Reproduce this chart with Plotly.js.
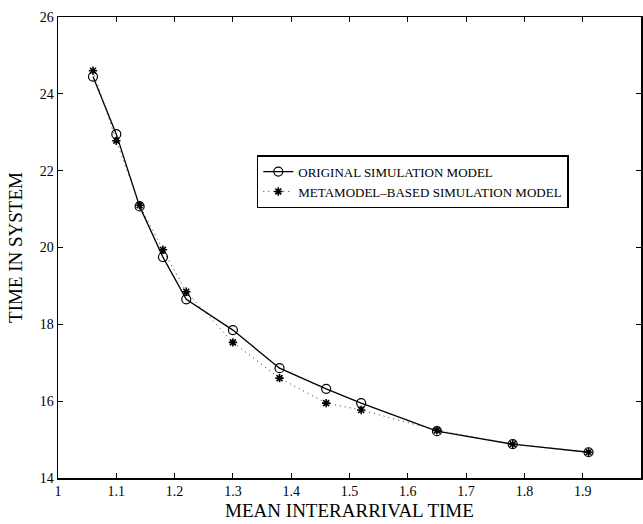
<!DOCTYPE html>
<html>
<head>
<meta charset="utf-8">
<script src="https://cdn.plot.ly/plotly-3.0.1.min.js"></script>
<style>html,body{margin:0;padding:0;background:#fff;}#chart{width:643px;height:524px;}</style>
</head>
<body>
<div id="chart"></div>
<script>
const interarrival = [1.06, 1.10, 1.14, 1.18, 1.22, 1.30, 1.38, 1.46, 1.52, 1.65, 1.78, 1.91];
const originalModel = [24.45, 22.95, 21.07, 19.75, 18.65, 17.85, 16.86, 16.32, 15.95, 15.22, 14.88, 14.67];
const metamodelBased = [24.60, 22.78, 21.10, 19.94, 18.85, 17.53, 16.60, 15.95, 15.77, 15.24, 14.88, 14.67];
const xTicks = [1, 1.1, 1.2, 1.3, 1.4, 1.5, 1.6, 1.7, 1.8, 1.9, 2];
const xTickLabels = ["1", "1.1", "1.2", "1.3", "1.4", "1.5", "1.6", "1.7", "1.8", "1.9", "2"];
const yTicks = [14, 16, 18, 20, 22, 24, 26];

const font = "Liberation Serif, Times New Roman, serif";

const traces = [
  {
    x: interarrival, y: originalModel, name: "ORIGINAL SIMULATION MODEL",
    mode: "lines+markers", type: "scatter",
    line: {color: "#000", width: 1.3},
    marker: {symbol: "circle-open", size: 9, color: "#000", line: {width: 1.2, color: "#000"}}
  },
  {
    x: interarrival, y: metamodelBased, name: "METAMODEL\u2013BASED SIMULATION MODEL",
    mode: "lines+markers", type: "scatter",
    line: {color: "#333", width: 1, dash: "1px,4px"},
    marker: {symbol: "asterisk-open", size: 7, color: "#000", line: {width: 1.6, color: "#000"}}
  }
];

const axisCommon = {
  showgrid: false, zeroline: false, showline: true, mirror: "ticks",
  linecolor: "#000", linewidth: 1.5, ticks: "inside", ticklen: 5, tickwidth: 1, tickcolor: "#000",
  tickfont: {family: font, size: 14, color: "#000"}
};

const layout = {
  width: 643, height: 524,
  margin: {l: 58, r: 2, t: 17, b: 46},
  paper_bgcolor: "#fff", plot_bgcolor: "#fff",
  showlegend: true,
  xaxis: Object.assign({}, axisCommon, {
    range: [1, 2], tickvals: xTicks, ticktext: xTickLabels,
    title: {text: "MEAN INTERARRIVAL TIME", font: {family: font, size: 19, color: "#000"}, standoff: 5}
  }),
  yaxis: Object.assign({}, axisCommon, {
    range: [14, 26], tickvals: yTicks,
    title: {text: "TIME IN SYSTEM", font: {family: font, size: 19, color: "#000"}, standoff: 12}
  }),
  legend: {
    x: 0.341, y: 0.643, xanchor: "left", yanchor: "middle",
    bgcolor: "#fff", bordercolor: "#000", borderwidth: 1.5,
    font: {family: font, size: 13, color: "#000"},
    itemwidth: 30, tracegroupgap: 0
  }
};

Plotly.newPlot("chart", traces, layout, {staticPlot: true});
</script>
</body>
</html>
